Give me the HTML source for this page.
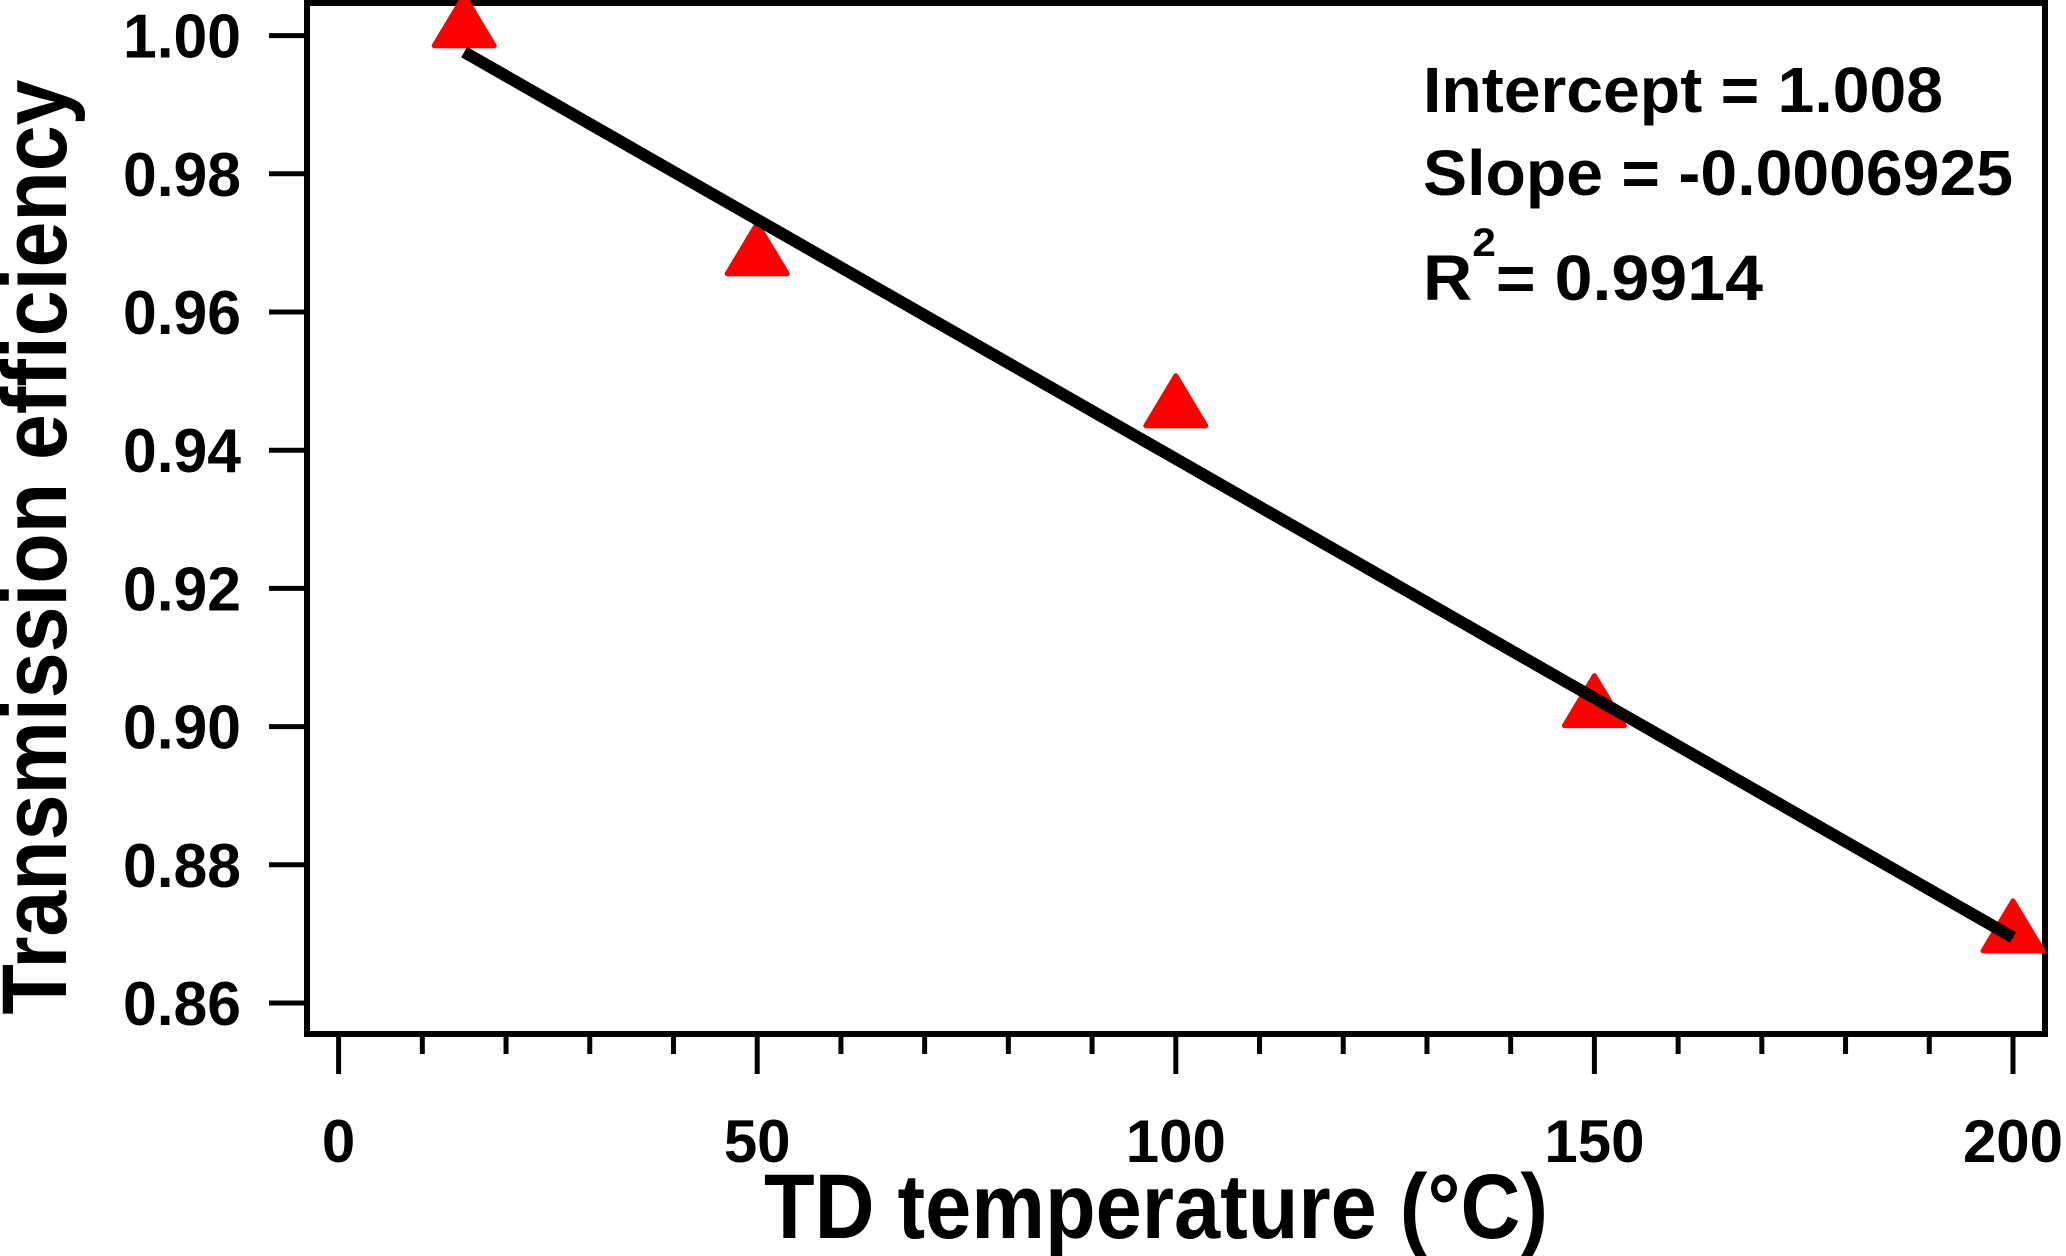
<!DOCTYPE html>
<html><head><meta charset="utf-8"><style>
html,body{margin:0;padding:0;background:#fff;}
svg{display:block;font-family:"Liberation Sans",Arial,sans-serif;font-weight:bold;}
</style></head><body>
<svg id="chart" width="2066" height="1256" viewBox="0 0 2066 1256">
<g id="axes"></g><g id="marks"></g>
<text x="1423" y="112" font-size="64" textLength="520" lengthAdjust="spacingAndGlyphs">Intercept = 1.008</text>
<text x="1423" y="195" font-size="64" textLength="590" lengthAdjust="spacingAndGlyphs">Slope = -0.0006925</text>
<text x="1423" y="300" font-size="64" textLength="340" lengthAdjust="spacingAndGlyphs">R<tspan dy="-44" font-size="40">2</tspan><tspan dy="44">= 0.9914</tspan></text>
<text x="1156" y="1238" font-size="92" text-anchor="middle" textLength="784" lengthAdjust="spacingAndGlyphs">TD temperature (°C)</text>
<text transform="translate(66,547) rotate(-90)" font-size="92" text-anchor="middle" textLength="935" lengthAdjust="spacingAndGlyphs">Transmission efficiency</text>
</svg>
<script>
const xValues = [15, 50, 100, 150, 200];
const yValues = [1.001, 0.968, 0.946, 0.9026, 0.870];
const xTicks = [0, 50, 100, 150, 200];
const yTicks = [0.86, 0.88, 0.90, 0.92, 0.94, 0.96, 0.98, 1.00];
const fitIntercept = 1.008;
const fitSlope = -0.0006925;
const fitRange = [15, 200];

const NS = "http://www.w3.org/2000/svg";
const L = 307, R = 2045, T = 3, B = 1034;
function xs(v){ return 338.6 + (v - 0) * (2013 - 338.6) / 200; }
function ys(v){ return 35.6 + (1.00 - v) * (1003 - 35.6) / 0.14; }
function mk(tag, attrs, parent){ const e = document.createElementNS(NS, tag); for (const k in attrs) e.setAttribute(k, attrs[k]); parent.appendChild(e); return e; }
const axes = document.getElementById('axes');
const marks = document.getElementById('marks');

const frame = mk('rect', {x:L, y:T, width:R-L, height:B-T, fill:'none', stroke:'#000', 'stroke-width':6}, axes);



yTicks.forEach(v => {
  const t = mk('line', {x1:L-38, x2:L, y1:ys(v), y2:ys(v), stroke:'#000', 'stroke-width':5}, axes);
  
  
  const lb = mk('text', {x:241, y:ys(v)+22, 'font-size':62, 'text-anchor':'end', textLength:118, lengthAdjust:'spacingAndGlyphs'}, axes);
  lb.textContent = v.toFixed(2);
  
  
});
for (let v = 0; v <= 200; v += 10) {
  const major = v % 50 === 0;
  const t = mk('line', {x1:xs(v), x2:xs(v), y1:B, y2:B + (major ? 40 : 20), stroke:'#000', 'stroke-width':5}, axes);
  
  
}
xTicks.forEach(v => {
  const lb = mk('text', {x:xs(v), y:1162, 'font-size':60, 'text-anchor':'middle'}, axes);
  lb.textContent = String(v);
  
  
});

const fl = mk('line', {x1:xs(fitRange[0]), y1:ys(fitIntercept + fitSlope*fitRange[0]), x2:xs(fitRange[1]), y2:ys(fitIntercept + fitSlope*fitRange[1]), stroke:'#000', 'stroke-width':12}, marks);



xValues.forEach((xv, i) => {
  const cx = xs(xv), cy = ys(yValues[i]);
  const p = mk('polygon', {points:`${cx},${cy-33} ${cx-30},${cy+17} ${cx+30},${cy+17}`, fill:'#ff0000', stroke:'#ff0000', 'stroke-width':5, 'stroke-linejoin':'round'}, marks);
  
  
});
marks.appendChild(fl);
</script>
</body></html>
